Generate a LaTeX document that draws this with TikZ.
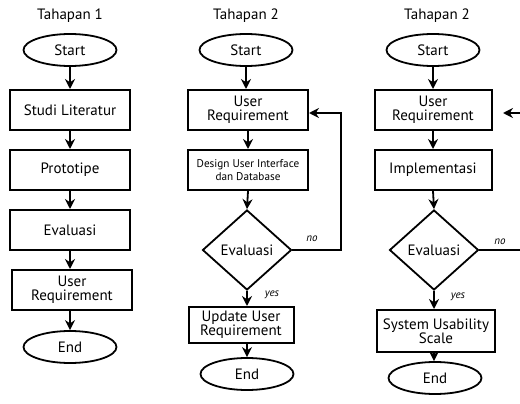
\documentclass[tikz,border=0pt]{standalone}
\usepackage{fontspec}
\setmainfont{PT Sans}
\usetikzlibrary{shapes.geometric,arrows.meta}
\begin{document}
\begin{tikzpicture}[x=1pt,y=-1pt,
  every node/.style={font=\fontsize{15}{16}\selectfont},
  term/.style={draw,line width=1.8pt,ellipse,minimum width=93pt,minimum height=32pt,inner sep=0pt},
  proc/.style={draw,line width=2pt,minimum width=120pt,minimum height=40pt,inner sep=1pt,align=center},
  dec/.style={draw,line width=1.8pt,diamond,minimum width=89pt,minimum height=80pt,inner sep=0pt},
  ttl/.style={font=\fontsize{15}{16}\selectfont},
  lbl/.style={font=\fontsize{11}{12}\itshape},
  flow/.style={line width=1.8pt,-{Stealth[length=10pt,width=10pt]}},
  line/.style={line width=1.8pt}]
\useasboundingbox (0,0) rectangle (520,404);
% Column 1
\node[ttl] (t1) at (70,16) {Tahapan 1};
\node[term] (s1) at (70,50) {Start};
\node[proc] (a1) at (70,110) {Studi Literatur};
\node[proc] (b1) at (70,170) {Prototipe};
\node[proc] (c1) at (70,230) {Evaluasi};
\node[proc] (d1) at (72,290) {User\\[-2pt]Requirement};
\node[term] (e1) at (70,347) {End};
\draw[flow] (s1) -- (a1);
\draw[flow] (a1) -- (b1);
\draw[flow] (b1) -- (c1);
\draw[flow] (c1.south) -- (c1.south |- d1.north);
\draw[flow] (d1.south -| c1.south) -- (e1);
% Column 2
\node[ttl] (t2) at (246,16) {Tahapan 2};
\node[term] (s2) at (246,50) {Start};
\node[proc] (a2) at (248,110) {User\\[-2pt]Requirement};
\node[proc,font=\fontsize{11.2}{13}\selectfont] (b2) at (248,170) {Design User Interface\\dan Database};
\node[dec] (c2) at (247,250) {Evaluasi};
\node[proc,minimum width=105pt,minimum height=36pt] (d2) at (241,325) {Update User\\[-2pt]Requirement};
\node[term] (e2) at (247,374) {End};
\coordinate (fb2) at (341,113);
\draw[flow] (s2) -- (s2 |- a2.north);
\draw[flow] (a2) -- (b2);
\draw[flow] (b2.south) -- (c2.north);
\draw[flow] (c2.south) -- (c2.south |- d2.north);
\draw[flow] (d2.south -| c2.south) -- (e2);
\draw[flow] (c2.east) -- (c2.east -| fb2) -- (fb2) -- (fb2 -| a2.east);
\node[lbl] (n2) at (312,239) {no};
\node[lbl] (y2) at (272,295) {yes};
% Column 3
\node[ttl] (t3) at (437,16) {Tahapan 2};
\node[term] (s3) at (433,50) {Start};
\node[proc,minimum width=117pt] (a3) at (433,110) {User\\[-2pt]Requirement};
\node[proc,minimum width=117pt] (b3) at (433,170) {Implementasi};
\node[dec] (c3) at (434,250) {Evaluasi};
\node[proc,minimum width=118pt,minimum height=42pt] (d3) at (436,331) {System Usability\\[-2pt]Scale};
\node[term] (e3) at (435,378) {End};
\coordinate (in3) at (520,113);
\coordinate (tip3) at (503,113);
\coordinate (out3) at (520,250);
\draw[flow] (s3) -- (a3);
\draw[flow] (a3) -- (b3);
\draw[flow] (b3.south) -- (c3.north);
\draw[flow] (c3.south) -- (c3.south |- d3.north);
\draw[flow] (d3.south -| c3.south) -- (e3.north -| c3.south);
\draw[line] (c3.east) -- (out3);
\draw[flow] (in3) -- (tip3);
\node[lbl] (n3) at (500,242) {no};
\node[lbl] (y3) at (458,297) {yes};
\end{tikzpicture}
\end{document}
